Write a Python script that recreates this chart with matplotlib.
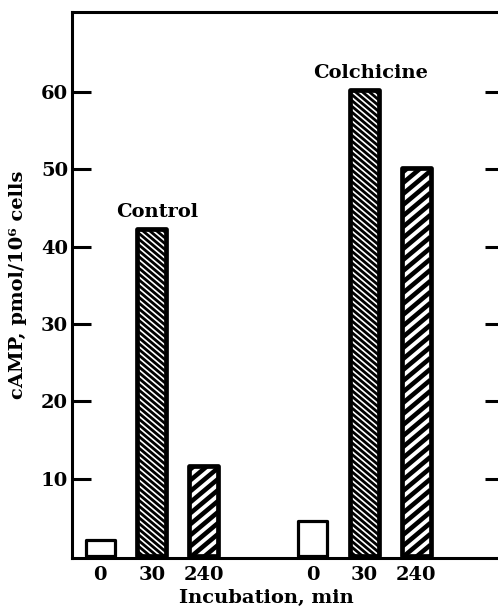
import matplotlib
matplotlib.use("Agg")
import matplotlib.pyplot as plt
import numpy as np

# data
groups = ["Control", "Colchicine"]
times = ["0", "30", "240"]
control = [2.1, 42.2, 11.6]
colchicine = [4.5, 60.3, 50.2]
positions = [0, 1, 2, 4.1, 5.1, 6.1]

# style per incubation time: stripe direction, period (px), stripe width (pt)
stripe_dir = [0, -1, 1]
stripe_period = [0, 5.8, 11.0]
stripe_lw = [0, 2.0, 3.3]
edge_lw = [2.3, 3.4, 3.4]

plt.rcParams["font.family"] = ["DejaVu Serif"]
plt.rcParams["font.weight"] = "bold"

fig = plt.figure(figsize=(4.98, 6.10), dpi=100)
ax = fig.add_axes([0.145, 0.085, 0.86, 0.895])
ax.set_xlim(-0.54, 7.73)
ax.set_ylim(-0.3, 70.3)

values = control + colchicine


def add_stripes(bar, direction, period, lw, angle=40):
    # diagonal stripes drawn in pixel space, clipped to the bar
    trans = ax.transData
    x0, y0 = bar.get_x(), bar.get_y()
    x1, y1 = x0 + bar.get_width(), y0 + bar.get_height()
    (px0, py0), (px1, py1) = trans.transform([(x0, y0), (x1, y1)])
    w = px1 - px0
    slope = np.tan(np.radians(angle)) * direction
    span = abs(slope) * w
    for c in np.arange(py0 - span - period, py1 + span + period, period):
        pts = trans.inverted().transform([(px0, c), (px1, c + slope * w)])
        line, = ax.plot(pts[:, 0], pts[:, 1], color="black", lw=lw,
                        solid_capstyle="butt", zorder=2)
        line.set_clip_path(bar)


for i, (pos, val) in enumerate(zip(positions, values)):
    k = i % 3
    face = ax.bar(pos, val, width=0.56, color="white", linewidth=0,
                  zorder=1)[0]
    if stripe_dir[k]:
        add_stripes(face, stripe_dir[k], stripe_period[k], stripe_lw[k])
    ax.bar(pos, val, width=0.56, fill=False, edgecolor="black",
           linewidth=edge_lw[k], joinstyle="round", zorder=3)

ax.set_yticks([10, 20, 30, 40, 50, 60])
ax.tick_params(axis="y", direction="in", length=14, width=2.2,
               labelsize=14, pad=3, right=True)
for t in ax.yaxis.get_major_ticks():
    t.tick2line.set_markersize(11)

ax.set_xticks(positions)
ax.set_xticklabels(times * 2)
ax.tick_params(axis="x", length=0, labelsize=14, pad=6)

for side in ["left", "top", "bottom"]:
    ax.spines[side].set_linewidth(2.2)
ax.spines["right"].set_visible(False)

ax.set_ylabel("cAMP, pmol/10⁶ cells", fontsize=14, fontweight="bold")
ax.yaxis.set_label_coords(-0.105, 0.5)
ax.set_xlabel("Incubation, min", fontsize=14, fontweight="bold")
ax.xaxis.set_label_coords(0.453, -0.057)

ax.text(1.1, 44.5, groups[0], ha="center", va="center", fontsize=14,
        fontweight="bold")
ax.text(5.22, 62.5, groups[1], ha="center", va="center", fontsize=14,
        fontweight="bold")

fig.savefig("out.png", dpi=100, facecolor="white")
